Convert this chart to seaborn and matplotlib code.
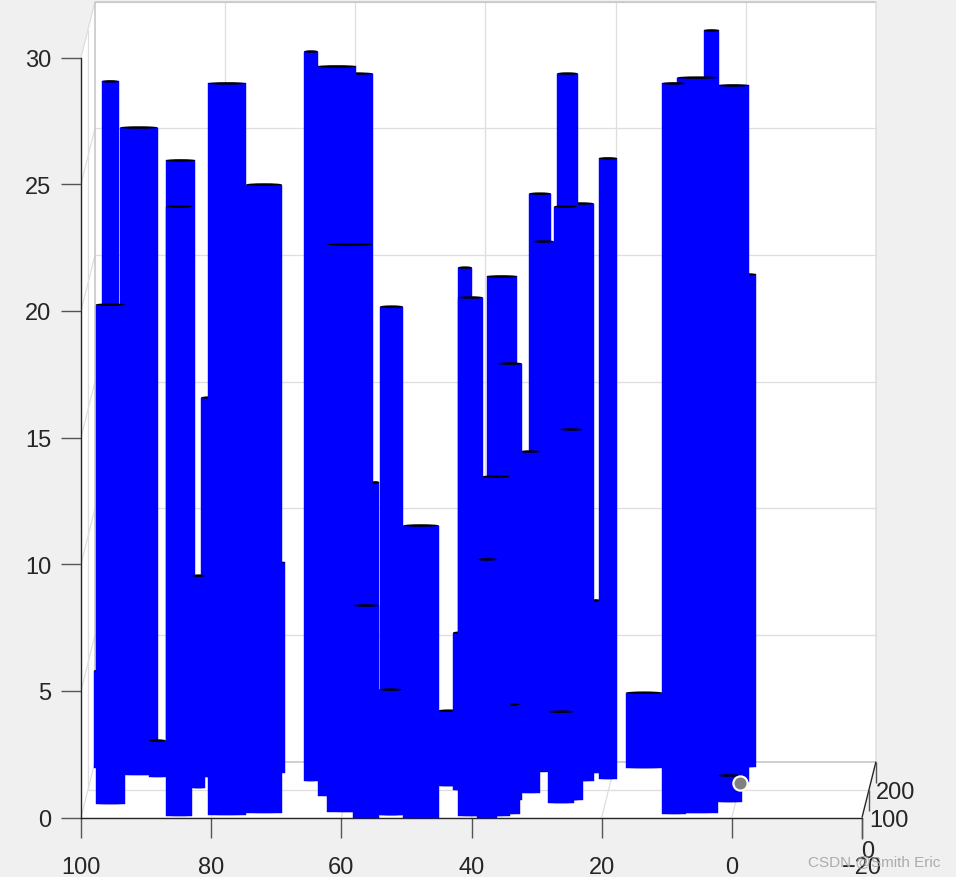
import matplotlib
matplotlib.use("Agg")
import matplotlib.pyplot as plt
from matplotlib.patches import Ellipse, Polygon
import numpy as np
import pandas as pd
import seaborn as sns

# cylinders: x position, diameter on screen, top and bottom on the z axis
centers = [95.5, 91.1, 95.5, 96.0, 88.25, 84.7, 84.9, 81.95, 80.1, 77.57, 71.88, 71.34,
           64.66, 60.66, 58.74, 58.2, 56.21, 54.75, 52.29, 52.44, 47.76, 43.53, 41.0, 40.15,
           41.53, 37.62, 35.31, 36.23, 34.08, 34.46, 31.0, 29.47, 28.93, 26.24, 25.55, 25.25,
           24.63, 23.25, 20.87, 19.02, 13.49, 8.88, 5.27, 3.12, -0.26, 0.35, -2.1]
widths = [2.6, 5.84, 4.46, 4.0, 2.6, 4.46, 3.98, 2.0, 2.92, 5.84, 5.53, 5.38,
          2.15, 5.84, 6.9, 6.15, 4.0, 1.1, 3.53, 3.53, 5.53, 3.23, 2.15, 3.84,
          2.6, 3.07, 4.6, 4.3, 3.69, 3.84, 3.07, 3.38, 3.23, 4.0, 3.53, 3.23,
          3.53, 4.15, 1.23, 2.77, 5.53, 3.69, 6.3, 2.3, 4.76, 3.84, 3.23]
tops = [29.06, 27.24, 20.25, 5.8, 3.04, 25.94, 24.12, 9.55, 16.58, 28.98, 24.99, 10.07,
        30.24, 29.65, 22.62, 29.37, 8.37, 13.23, 20.17, 5.05, 11.53, 4.22, 21.71, 20.53,
        7.3, 10.19, 21.36, 13.46, 17.92, 4.46, 14.45, 24.63, 22.74, 4.18, 24.12, 29.37,
        15.32, 24.24, 8.57, 26.02, 4.93, 28.98, 29.21, 31.07, 28.9, 1.66, 21.44]
bottoms = [1.9, 1.7, 0.55, 1.97, 1.62, 1.7, 0.08, 1.18, 1.62, 0.12, 0.2, 1.78,
           1.46, 0.87, 0.24, 1.3, 0.0, 1.1, 0.12, 0.12, 0.0, 1.26, 1.5, 0.08,
           1.1, 0.0, 1.1, 0.08, 0.71, 0.16, 0.99, 1.82, 1.82, 0.59, 0.71, 1.3,
           0.71, 1.46, 1.78, 1.54, 1.97, 0.16, 0.2, 1.5, 1.42, 0.63, 2.01]

x_ticks = [100, 80, 60, 40, 20, 0, -20]
z_ticks = [0, 5, 10, 15, 20, 25, 30]
depth_ticks = [0, 100, 200]
tip_x = [-1.26]
tip_z = [1.38]

sns.set_theme(style="white")
plt.rcParams["font.family"] = ["Liberation Sans", "DejaVu Sans"]

W, H = 956, 878
fig = plt.figure(figsize=(W / 100, H / 100), dpi=100, facecolor="#f0f0f0")
ax = fig.add_axes([81 / W, 1 - 818.6 / H, (862 - 81) / W, (818 - 58) / H])
ax.set_xlim(100, -20)
ax.set_ylim(0, 30)
ax.patch.set_alpha(0)

# depth direction of the box, in data units at the far end of the y axis
DX, DZ = -2.15, 2.21
Z_MAX = 30
GRID = "#dedede"
FRAME = "#c4c4c4"


def deco(xs, zs, color=GRID, lw=0.9, z=1):
    ax.plot(xs, zs, color=color, lw=lw, clip_on=False, zorder=z, solid_capstyle="butt")


ax.add_patch(Polygon([(100, 0), (100, Z_MAX), (100 + DX, Z_MAX + DZ), (-20 + DX, Z_MAX + DZ),
                      (-20 + DX, DZ), (-20, 0)], closed=True, fc="white", ec="none",
                     clip_on=False, zorder=0))

for t in x_ticks[1:-1]:
    deco([t + DX, t + DX], [DZ, Z_MAX + DZ])
    deco([t, t + DX], [0, DZ])
for t in z_ticks[1:]:
    deco([100 + DX, -20 + DX], [t + DZ, t + DZ])
    deco([100, 100 + DX], [t, t + DZ])
for f in (0.5,):
    deco([100 + f * DX, -20 + f * DX], [f * DZ, f * DZ])
    deco([100 + f * DX, 100 + f * DX], [f * DZ, Z_MAX + f * DZ])
deco([100, 100 + DX], [0, DZ])
deco([100 + DX, 100 + DX], [DZ, Z_MAX + DZ], FRAME, 1.1)
deco([100 + DX, -20 + DX], [DZ, DZ], FRAME, 1.1)
deco([100 + DX, -20 + DX], [Z_MAX + DZ, Z_MAX + DZ], FRAME, 1.1)
deco([-20 + DX, -20 + DX], [DZ, Z_MAX + DZ], GRID, 1.1)

df = pd.DataFrame({"x": centers, "w": widths, "top": tops, "bottom": bottoms})
df = df.sort_values("bottom", ascending=False, kind="stable").reset_index(drop=True)

z = 3.0
for row in df.itertuples():
    ax.add_patch(Ellipse((row.x, row.bottom), row.w, 0.05, fc="#000033", ec="none",
                         clip_on=False, zorder=z))
    ax.bar(row.x, row.top - row.bottom, width=row.w, bottom=row.bottom, color="#0000ff",
           edgecolor="#0000ff", linewidth=0.3, clip_on=False, zorder=z + 0.01)
    ax.add_patch(Ellipse((row.x, row.top), row.w, 0.10, fc="black", ec="none",
                         clip_on=False, zorder=z + 0.02))
    z += 0.1

sns.scatterplot(x=tip_x, y=tip_z, ax=ax, s=105, color="#808080", edgecolor="#fbfbe8",
                linewidth=1.6, clip_on=False, zorder=50, legend=False)

sns.despine(ax=ax)
for s in ("left", "bottom"):
    ax.spines[s].set_color("#262626")
    ax.spines[s].set_linewidth(1.0)
    ax.spines[s].set_zorder(2)
ax.set_xticks(x_ticks)
ax.set_yticks(z_ticks)
ax.tick_params(axis="both", which="major", direction="out", length=14.5, width=1.0,
               color="#555555", labelcolor="#262626", labelsize=17, pad=7,
               left=True, bottom=True)
ax.tick_params(axis="x", pad=13.5)

# depth axis
deco([-20, -20 + DX], [0, DZ], "#262626", 1.0, 2)
for t in depth_ticks:
    f = t / 200
    xp, zp = -20 + f * DX, f * DZ
    deco([xp, xp], [zp, zp - 0.83], "#555555", 1.0, 2)
ax.text(-20 - 0.85, -1.31, "0", fontsize=17, color="#262626", ha="center", va="center", clip_on=False)
ax.text(-20 + 0.5 * DX - 0.1, -0.08, "100", fontsize=17, color="#262626", ha="left", va="center", clip_on=False)
ax.text(-20 + DX + 0.05, 1.0, "200", fontsize=17, color="#262626", ha="left", va="center", clip_on=False)

fig.text(808 / W, 1 - 862 / H, "CSDN @Smith Eric", fontsize=11, color="#a8a8a8",
         ha="left", va="center", zorder=60, alpha=0.95)

fig.savefig("out.png", dpi=100, facecolor=fig.get_facecolor())
